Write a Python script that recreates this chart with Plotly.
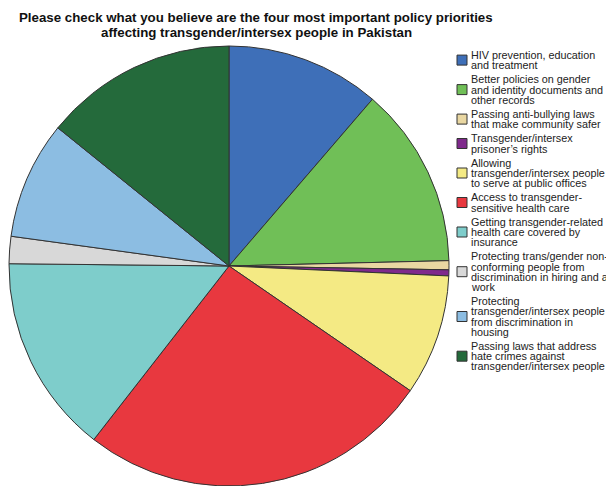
import plotly.graph_objects as go

# Survey responses: policy priorities (counts per option)
categories = [
    "HIV prevention, education and treatment",
    "Better policies on gender and identity documents and other records",
    "Passing anti-bullying laws that make community safer",
    "Transgender/intersex prisoner's rights",
    "Allowing transgender/intersex people to serve at public offices",
    "Access to transgender-sensitive health care",
    "Getting transgender-related health care covered by insurance",
    "Protecting trans/gender non-conforming people from discrimination in hiring and at work",
    "Protecting transgender/intersex people from discrimination in housing",
    "Passing laws that address hate crimes against transgender/intersex people",
]
counts = [51, 60, 3, 2, 40, 117, 66, 9, 39, 64]

# Legend text, wrapped the way it is printed next to the pie
legend_lines = [
    ["HIV prevention, education", "and treatment"],
    ["Better policies on gender", "and identity documents and", "other records"],
    ["Passing anti-bullying laws", "that make community safer"],
    ["Transgender/intersex", "prisoner\u2019s rights"],
    ["Allowing", "transgender/intersex people", "to serve at public offices"],
    ["Access to transgender-", "sensitive health care"],
    ["Getting transgender-related", "health care covered by", "insurance"],
    ["Protecting trans/gender non-", "conforming people from", "discrimination in hiring and at", "work"],
    ["Protecting", "transgender/intersex people", "from discrimination in", "housing"],
    ["Passing laws that address", "hate crimes against", "transgender/intersex people"],
]

colors = [
    "#3e6fb8", "#70bf57", "#e9d7a2", "#7f2a8c", "#f4ea84",
    "#e8383f", "#7ecdcb", "#d8d8d8", "#8cbde2", "#246a3b",
]

title_lines = [
    "Please check what you believe are the four most important policy priorities",
    "affecting transgender/intersex people in Pakistan",
]

W, H = 606, 486
cx, r = 229, 220
top = H - 2 * r

fig = go.Figure(
    go.Pie(
        labels=categories,
        values=counts,
        sort=False,
        direction="clockwise",
        rotation=0,
        textinfo="none",
        marker=dict(colors=colors, line=dict(color="#333333", width=1)),
        domain=dict(x=[(cx - r) / W, (cx + r) / W], y=[0, (H - top) / H]),
        showlegend=False,
    )
)

annotations = []
shapes = []

# Title, two centred bold lines
for i, line in enumerate(title_lines):
    annotations.append(dict(
        text="<b>%s</b>" % line, x=256 / W, y=1 - (18 + 15 * i) / H,
        xref="paper", yref="paper", xanchor="center", yanchor="middle",
        showarrow=False, font=dict(size=13.3, color="#111111"),
    ))

# Legend: swatch plus tightly spaced text lines
pitch, gap = 10.2, 4.0
y = 55.0
for lines, col in zip(legend_lines, colors):
    ys = [y + pitch * k for k in range(len(lines))]
    for yy, txt in zip(ys, lines):
        annotations.append(dict(
            text=txt, x=469 / W, y=1 - yy / H, xref="paper", yref="paper",
            xanchor="left", yanchor="middle", showarrow=False,
            font=dict(size=10.8, color="#222222"),
        ))
    ym = (ys[0] + ys[-1]) / 2
    shapes.append(dict(
        type="rect", xref="paper", yref="paper",
        x0=457 / W, x1=467 / W, y0=1 - (ym - 5) / H, y1=1 - (ym + 5) / H,
        fillcolor=col, line=dict(color="#333333", width=1),
    ))
    y = ys[-1] + pitch + gap

fig.update_layout(
    width=W, height=H,
    margin=dict(l=0, r=0, t=0, b=0),
    paper_bgcolor="white",
    font=dict(family="Liberation Sans, Arial, sans-serif"),
    annotations=annotations,
    shapes=shapes,
)

fig.write_html("out.html")
